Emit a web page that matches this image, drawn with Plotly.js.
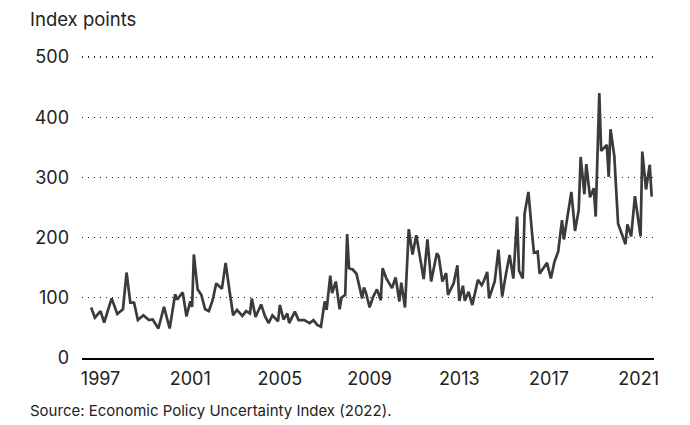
<!DOCTYPE html>
<html>
<head>
<meta charset="utf-8">
<script src="https://cdn.plot.ly/plotly-3.0.1.min.js"></script>
<style>
  html, body { margin: 0; padding: 0; background: #ffffff; }
  #chart { width: 690px; height: 425px; }
</style>
</head>
<body>
<div id="chart"></div>
<script>
// Economic Policy Uncertainty Index
const dates = [
  '1996-08','1996-10','1997-01','1997-03','1997-07','1997-10','1998-01','1998-03','1998-05','1998-07',
  '1998-09','1998-12','1999-03','1999-05','1999-08','1999-11','2000-02','2000-05','2000-06','2000-09',
  '2000-11','2001-01','2001-02','2001-03','2001-05','2001-07','2001-09','2001-11','2002-01','2002-03',
  '2002-06','2002-08','2002-10','2002-12','2003-02','2003-05','2003-07','2003-09','2003-10','2003-12',
  '2004-03','2004-05','2004-07','2004-09','2004-12','2005-01','2005-03','2005-05','2005-06','2005-09',
  '2005-11','2006-02','2006-05','2006-07','2006-09','2006-11','2007-01','2007-02','2007-04','2007-05',
  '2007-07','2007-09','2007-10','2007-12','2008-01','2008-02','2008-04','2008-06','2008-09','2008-10',
  '2008-11','2009-01','2009-03','2009-05','2009-07','2009-08','2009-10','2010-01','2010-03','2010-05',
  '2010-06','2010-08','2010-10','2010-12','2011-02','2011-04','2011-06','2011-08','2011-10','2012-01',
  '2012-02','2012-04','2012-06','2012-07','2012-10','2012-12','2013-01','2013-03','2013-04','2013-06',
  '2013-08','2013-11','2014-01','2014-02','2014-04','2014-05','2014-08','2014-10','2014-12','2015-02',
  '2015-04','2015-06','2015-08','2015-09','2015-11','2015-12','2016-02','2016-04','2016-05','2016-07',
  '2016-08','2016-10','2016-12','2017-02','2017-04','2017-06','2017-08','2017-09','2018-01','2018-03',
  '2018-05','2018-06','2018-08','2018-09','2018-11','2019-01','2019-02','2019-04','2019-05','2019-08',
  '2019-09','2019-10','2019-12','2020-02','2020-06','2020-07','2020-09','2020-11','2021-02','2021-03',
  '2021-05','2021-07','2021-08'
];
const values = [
  84, 67, 78, 59, 99, 73, 81, 142, 92, 92,
  63, 71, 63, 64, 49, 85, 49, 106, 97, 109,
  69, 94, 85, 172, 114, 105, 81, 78, 96, 124,
  115, 158, 113, 71, 80, 70, 78, 74, 99, 68,
  89, 70, 58, 71, 61, 88, 64, 74, 58, 77,
  63, 63, 58, 63, 55, 52, 94, 80, 137, 108,
  127, 81, 100, 105, 206, 149, 147, 140, 99, 117,
  109, 84, 102, 114, 96, 149, 132, 116, 134, 94,
  125, 84, 214, 172, 204, 168, 131, 197, 127, 174,
  169, 127, 141, 105, 124, 154, 95, 120, 95, 110,
  88, 130, 121, 127, 143, 99, 127, 180, 102, 140,
  171, 132, 235, 145, 132, 240, 276, 207, 175, 177,
  140, 149, 158, 132, 160, 177, 229, 197, 276, 211,
  246, 334, 272, 322, 267, 282, 235, 440, 344, 354,
  301, 380, 336, 223, 189, 222, 202, 269, 202, 343,
  280, 321, 268
];
const tickYears = ['1997', '2001', '2005', '2009', '2013', '2017', '2021'];
const yTicks = [0, 100, 200, 300, 400, 500];
const yLabel = 'Index points';
const sourceNote = 'Source: Economic Policy Uncertainty Index (2022).';

const FONT = 'Inter, "Open Sans", "Liberation Sans", sans-serif';
const PLOT_H = 302;

const trace = {
  x: dates,
  y: values,
  type: 'scatter',
  mode: 'lines',
  line: { color: '#3b3b3b', width: 2.7 },
  hoverinfo: 'skip'
};

const layout = {
  width: 690,
  height: 425,
  margin: { l: 82, r: 36, t: 56, b: 67 },
  paper_bgcolor: '#ffffff',
  plot_bgcolor: '#ffffff',
  showlegend: false,
  font: { family: FONT, color: '#222222', size: 18 },
  xaxis: {
    type: 'date',
    range: ['1996-03-05', '2021-09-08'],
    tickvals: tickYears.map(y => y + '-01-01'),
    ticktext: tickYears,
    showgrid: false,
    zeroline: false,
    showline: true,
    linecolor: '#000000',
    linewidth: 2.2,
    ticks: '',
    ticklabelstandoff: 3,
    tickfont: { family: FONT, size: 18, color: '#222222' },
    fixedrange: true
  },
  yaxis: {
    range: [0, 501.7],
    tickvals: yTicks,
    ticktext: yTicks.map(String),
    showgrid: true,
    gridcolor: '#222222',
    gridwidth: 1.4,
    griddash: '1.4px,4.6px',
    zeroline: false,
    showline: false,
    ticks: '',
    ticklabelstandoff: 12,
    tickfont: { family: FONT, size: 18, color: '#222222' },
    fixedrange: true
  },
  annotations: [
    {
      text: yLabel,
      xref: 'paper', yref: 'paper',
      x: (28 - 82) / 572, y: (358 - 19) / PLOT_H,
      xanchor: 'left', yanchor: 'middle',
      showarrow: false,
      font: { family: FONT, size: 18.5, color: '#222222' }
    },
    {
      text: sourceNote,
      xref: 'paper', yref: 'paper',
      x: (28 - 82) / 572, y: (358 - 410) / PLOT_H,
      xanchor: 'left', yanchor: 'middle',
      showarrow: false,
      font: { family: FONT, size: 15, color: '#222222' }
    }
  ]
};

Plotly.newPlot('chart', [trace], layout, { staticPlot: true, displayModeBar: false });
</script>
</body>
</html>
